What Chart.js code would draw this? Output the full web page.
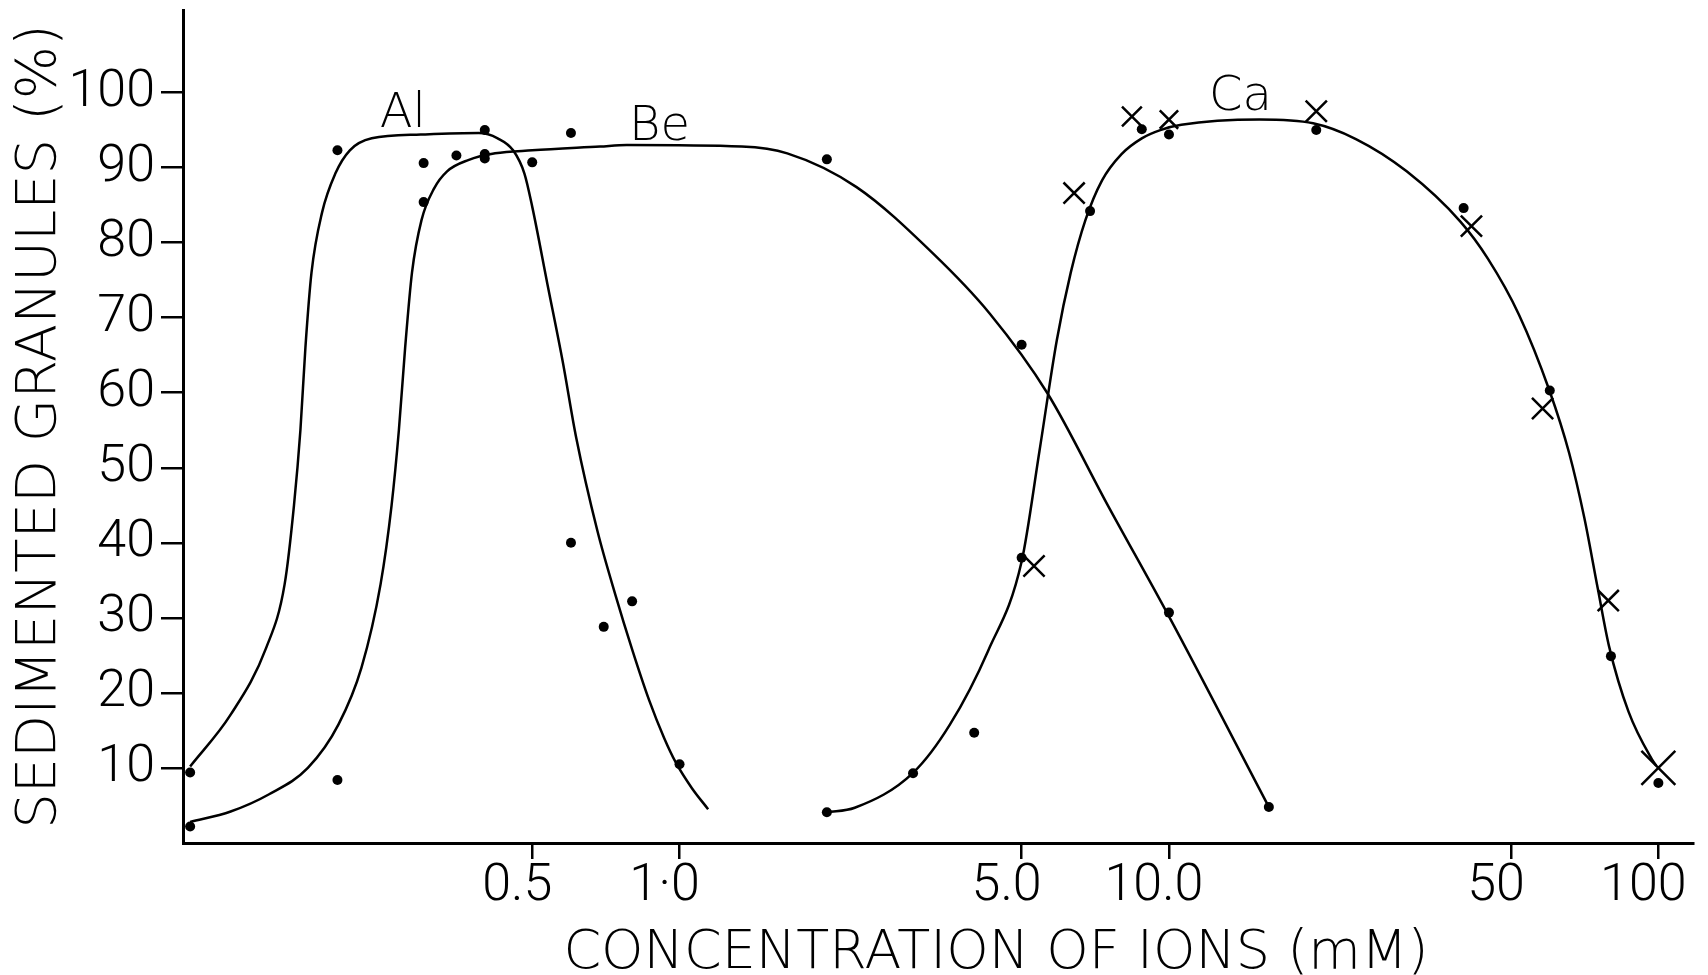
<!DOCTYPE html>
<html>
<head>
<meta charset="utf-8">
<title>Sedimented granules vs concentration of ions</title>
<script src="https://cdn.jsdelivr.net/npm/chart.js@4.4.1/dist/chart.umd.min.js"></script>
<style>
  html, body { margin: 0; padding: 0; background: #fff; }
  #wrap { width: 1708px; height: 975px; }
</style>
</head>
<body>
<div id="wrap"><canvas id="myChart"></canvas></div>
<script>
// axis ticks (concentration in mM, log axis)
const xTickValues = [0.5, 1, 5, 10, 50, 100];
const xTickLabels = ['0.5', '1·0', '5.0', '10.0', '50', '100'];
const yTickValues = [10, 20, 30, 40, 50, 60, 70, 80, 90, 100];

// hand-drawn curves
const alCurveX = [0.1, 0.121, 0.143, 0.156, 0.163, 0.168, 0.172, 0.177, 0.186, 0.198, 0.212, 0.235, 0.296, 0.389, 0.425, 0.457, 0.482, 0.5, 0.537, 0.577, 0.615, 0.68, 0.74, 0.8, 0.867, 0.93, 0.983, 1.06, 1.144];
const alCurveY = [10.2, 17.1, 26, 34.5, 45, 55, 66, 76, 84, 89.2, 92.3, 93.9, 94.4, 94.6, 93.9, 92.3, 89.2, 84.8, 74.5, 64.2, 54, 41.5, 33, 25.8, 19, 14, 10.7, 7.3, 4.5];

const beCurveX = [0.1, 0.121, 0.145, 0.174, 0.201, 0.224, 0.245, 0.258, 0.267, 0.275, 0.284, 0.297, 0.315, 0.335, 0.37, 0.42, 0.5, 0.688, 0.78, 1.34, 1.66, 2.3, 3.29, 4.31, 5.65, 7.5, 10, 16];
const beCurveY = [2.8, 4.2, 6.5, 10, 15.8, 23.4, 34.5, 45, 55, 66, 76, 83, 87.2, 89.5, 91, 91.9, 92.3, 92.8, 93, 92.8, 91.9, 87.4, 78.6, 70.5, 59.9, 45, 30.2, 4.8];

const caCurveX = [2.0, 2.28, 3.0, 3.57, 4.27, 5.0, 5.44, 5.9, 6.3, 6.75, 7.3, 8.0, 8.8, 9.6, 10.6, 15.3, 19.7, 24.1, 30.6, 39.4, 44.8, 51.9, 59.9, 65.7, 70.6, 75.2, 79.3, 86.9, 96.9, 99];
const caCurveY = [4.1, 4.7, 9.35, 15.8, 25.6, 37.5, 52.3, 67, 76, 83, 88.3, 91.8, 93.9, 95, 95.7, 96.4, 95.9, 93.8, 89.5, 82.8, 77.9, 70.4, 60.3, 52, 43.3, 33.9, 26.2, 17.5, 11.2, 10.3];

// measured points
const alPointsX = [0.1, 0.2, 0.3, 0.35, 0.4, 0.6, 0.7, 0.8, 1.0];
const alPointsY = [9.4, 92.3, 90.6, 91.6, 95.0, 40.0, 28.8, 32.2, 10.5];

const bePointsX = [0.1, 0.2, 0.3, 0.4, 0.4, 0.5, 0.6, 2.0, 5.0, 10, 16];
const bePointsY = [2.2, 8.4, 85.4, 91.8, 91.2, 90.7, 94.6, 91.1, 66.4, 30.7, 4.8];

const caDotsX = [2.0, 3.0, 4.0, 5.0, 6.9, 8.8, 10, 20, 40, 60, 80, 100];
const caDotsY = [4.1, 9.3, 14.7, 38.0, 84.2, 95.1, 94.4, 95.0, 84.6, 60.3, 24.9, 8.0];

const caCrossX = [5.3, 6.4, 8.4, 10, 20, 41.5, 58, 79, 100];
const caCrossY = [36.9, 86.6, 96.8, 96.4, 97.5, 82.2, 57.9, 32.3, 10.0];

// curve names written on the plot
const curveNames = ['Al', 'Be', 'Ca'];
const curveNameX = [0.272, 0.91, 14.0];
const curveNameY = [97.1, 95.3, 99.4];

const FONT = '"DejaVu Sans", "Liberation Sans", sans-serif';
const TICK_FONT = 'Roboto, "Liberation Sans", sans-serif';

function pts(xs, ys) {
    return xs.map((x, i) => ({ x: x, y: ys[i] }));
}

function curve(xs, ys) {
    return {
        data: pts(xs, ys),
        showLine: true,
        borderColor: '#000',
        borderWidth: 2.5,
        pointRadius: 0,
        cubicInterpolationMode: 'monotone',
        fill: false
    };
}

function dots(xs, ys) {
    return {
        data: pts(xs, ys),
        showLine: false,
        pointRadius: 5,
        pointBackgroundColor: '#000',
        pointBorderWidth: 0
    };
}

// x axis title and the Al / Be / Ca names
const figureText = {
    id: 'figureText',
    afterDraw(chart) {
        const ctx = chart.ctx;
        const x = chart.scales.x;
        const y = chart.scales.y;
        ctx.save();
        ctx.fillStyle = '#000';
        ctx.textAlign = 'center';
        ctx.textBaseline = 'middle';
        ctx.font = '300 48px ' + FONT;
        curveNames.forEach((name, i) => {
            ctx.fillText(name, x.getPixelForValue(curveNameX[i]), y.getPixelForValue(curveNameY[i]));
        });
        ctx.font = '300 54px ' + FONT;
        ctx.fillText('CONCENTRATION OF IONS (mM)', 996, 954);
        ctx.restore();
    }
};

const config = {
    type: 'scatter',
    data: {
        datasets: [
            curve(alCurveX, alCurveY),
            curve(beCurveX, beCurveY),
            curve(caCurveX, caCurveY),
            dots(alPointsX, alPointsY),
            dots(bePointsX, bePointsY),
            dots(caDotsX, caDotsY),
            {
                data: pts(caCrossX, caCrossY),
                showLine: false,
                pointStyle: 'crossRot',
                pointRadius: [15, 15, 14, 13, 15, 15, 15, 15, 24],
                pointBorderColor: '#000',
                pointBorderWidth: 2.5
            }
        ]
    },
    options: {
        responsive: true,
        maintainAspectRatio: false,
        animation: false,
        layout: { autoPadding: false, padding: { left: 0, right: 15, top: 10, bottom: 0 } },
        plugins: {
            legend: { display: false },
            tooltip: { enabled: false }
        },
        scales: {
            x: {
                type: 'logarithmic',
                min: 0.0967,
                max: 117.7,
                border: { display: true, color: '#000', width: 3 },
                grid: { display: true, drawOnChartArea: false, drawTicks: true, tickLength: 16, tickWidth: 2.5, lineWidth: 2.5, tickColor: '#000', color: '#000' },
                ticks: {
                    autoSkip: false,
                    maxRotation: 0,
                    padding: 2,
                    labelOffset: -15,
                    color: '#000',
                    font: { family: TICK_FONT, size: 52, weight: '300', lineHeight: 1 },
                    callback: (value, index) => xTickLabels[index]
                },
                afterBuildTicks: scale => { scale.ticks = xTickValues.map(v => ({ value: v })); },
                afterFit: scale => { scale.height = 132; scale.paddingLeft = 0; scale.paddingRight = 0; }
            },
            y: {
                min: 0,
                max: 111,
                border: { display: true, color: '#000', width: 3 },
                grid: { display: true, drawOnChartArea: false, drawTicks: true, tickLength: 22, tickWidth: 2.5, lineWidth: 2.5, tickColor: '#000', color: '#000' },
                ticks: {
                    padding: 6,
                    color: '#000',
                    font: { family: TICK_FONT, size: 52, weight: '300', lineHeight: 1 }
                },
                afterBuildTicks: scale => { scale.ticks = yTickValues.map(v => ({ value: v })); },
                afterFit: scale => { scale.width = 183; scale.paddingTop = 0; scale.paddingBottom = 0; },
                title: {
                    display: true,
                    text: 'SEDIMENTED GRANULES (%)',
                    color: '#000',
                    font: { family: FONT, size: 56, weight: '300', lineHeight: 1 },
                    padding: { top: 12, bottom: 0 }
                }
            }
        }
    },
    plugins: [figureText]
};

const myChart = new Chart(document.getElementById('myChart'), config);
</script>
</body>
</html>
